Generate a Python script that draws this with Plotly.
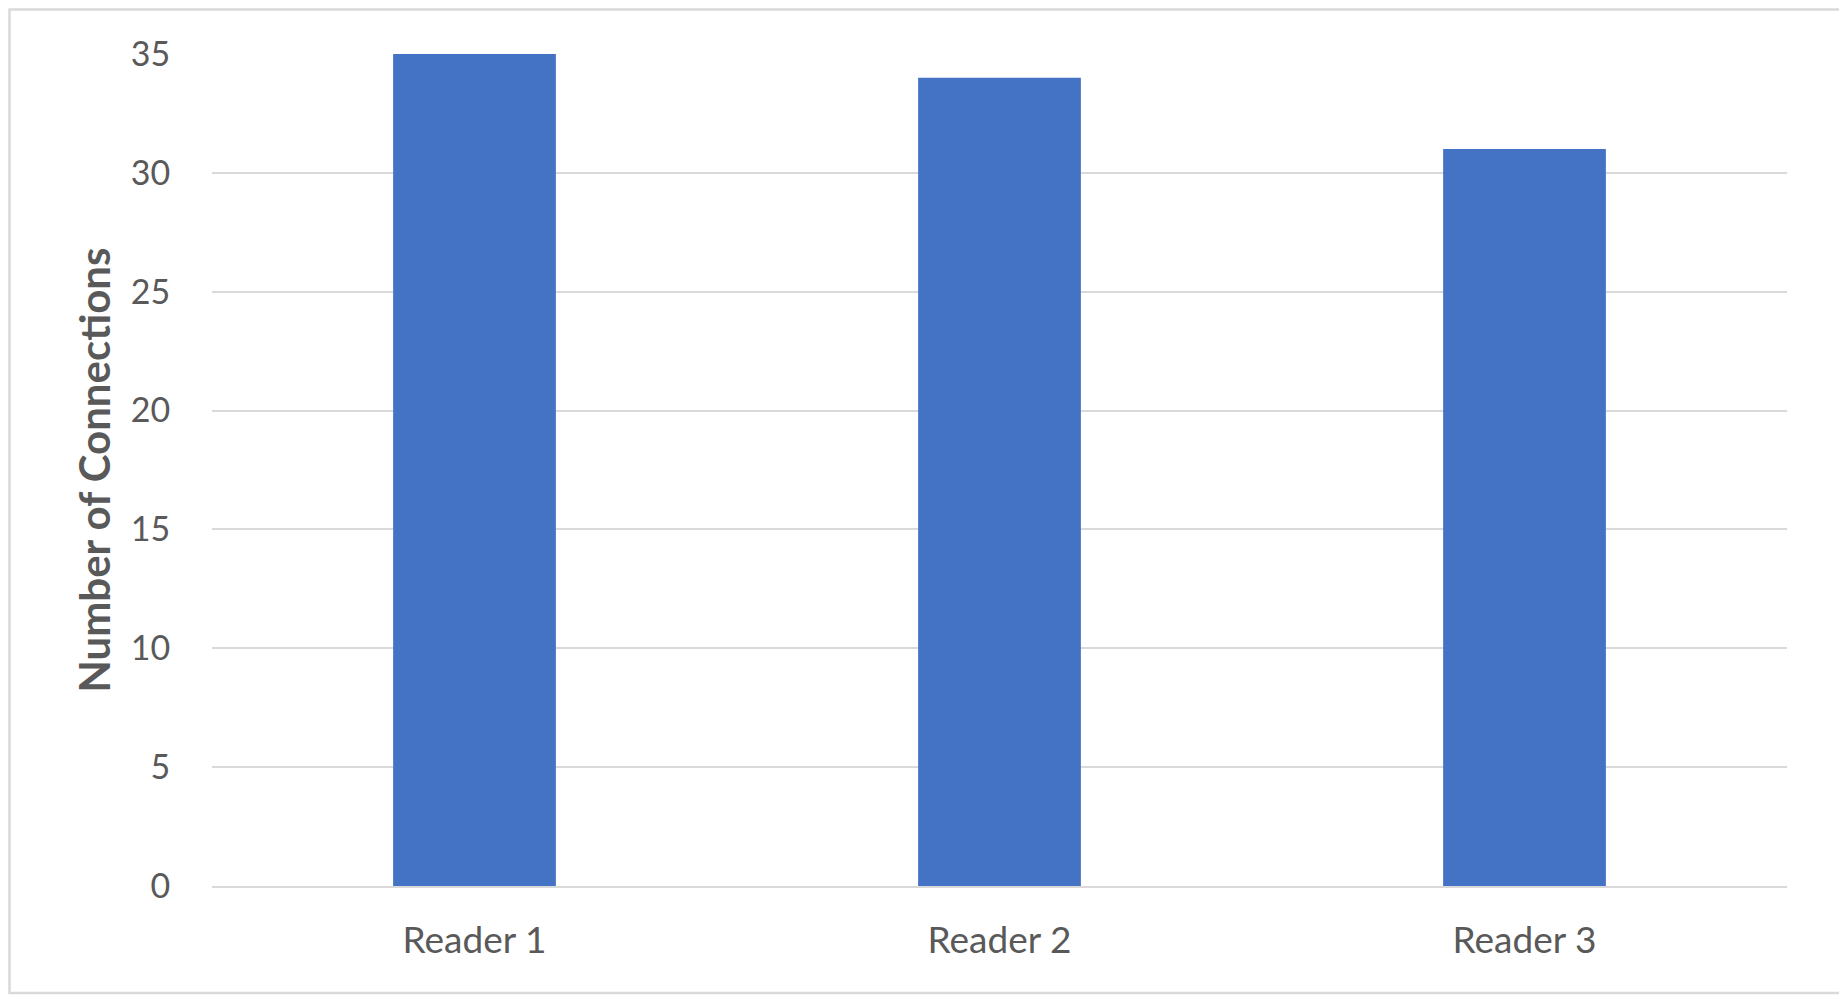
import plotly.graph_objects as go

# Data
readers = ["Reader 1", "Reader 2", "Reader 3"]
connections = [35, 34, 31]
y_ticks = [0, 5, 10, 15, 20, 25, 30, 35]

BAR_COLOR = "#4472C4"
TEXT_COLOR = "#595959"
GRID_COLOR = "#D9D9D9"
FONT = "Lato, Calibri, 'Open Sans', sans-serif"

W, H = 1847, 1003
# the page adds an 8px body margin, so margins are offset by it
M = {"l": 204, "r": 68, "t": 46, "b": 125}
plot_w = W - M["l"] - M["r"]
plot_h = H - M["t"] - M["b"]


def px_to_paper_x(px):
    return (px - M["l"]) / plot_w


def px_to_paper_y(py):
    return (H - M["b"] - py) / plot_h


fig = go.Figure(
    go.Bar(
        x=readers,
        y=connections,
        marker={"color": BAR_COLOR, "line": {"width": 0}},
        width=0.31,
    )
)

fig.update_layout(
    width=W,
    height=H,
    margin=M,
    paper_bgcolor="white",
    plot_bgcolor="white",
    font={"family": FONT, "color": TEXT_COLOR, "size": 34},
    showlegend=False,
    shapes=[
        # outer chart border
        {
            "type": "rect",
            "xref": "paper",
            "yref": "paper",
            "x0": px_to_paper_x(1.5),
            "x1": px_to_paper_x(W - 12),
            "y0": px_to_paper_y(H - 18),
            "y1": px_to_paper_y(1.5),
            "line": {"color": GRID_COLOR, "width": 2.5},
            "layer": "below",
        }
    ],
)

fig.update_yaxes(
    range=[0, 35],
    tickvals=y_ticks,
    showgrid=True,
    gridcolor=GRID_COLOR,
    gridwidth=2,
    zeroline=False,
    showline=False,
    ticks="outside",
    ticklen=34,
    tickcolor="rgba(0,0,0,0)",
    tickfont={"size": 34, "color": TEXT_COLOR},
    title={
        "text": "<b>Number of Connections</b>",
        "font": {"size": 42, "color": TEXT_COLOR},
        "standoff": 7,
    },
)

fig.update_xaxes(
    showgrid=False,
    showline=True,
    linecolor=GRID_COLOR,
    linewidth=2,
    ticks="outside",
    ticklen=21,
    tickcolor="rgba(0,0,0,0)",
    tickfont={"size": 37, "color": TEXT_COLOR},
)

fig.write_html("out.html")
